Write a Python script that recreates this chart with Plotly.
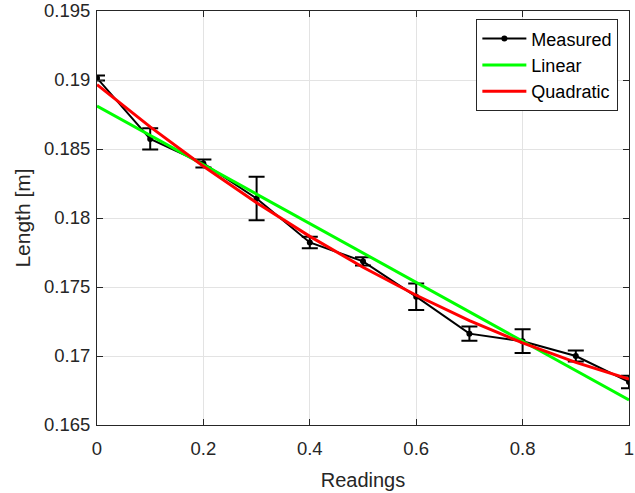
import plotly.graph_objects as go

readings = [0.0, 0.1, 0.2, 0.3, 0.4, 0.5, 0.6, 0.7, 0.8, 0.9, 1.0]
measured = [0.19014, 0.18573, 0.18395, 0.18141, 0.17823, 0.17686, 0.17430, 0.17162, 0.17107, 0.17000, 0.16812]
measured_err = [0.00018, 0.00077, 0.00029, 0.00158, 0.00042, 0.00030, 0.00096, 0.00052, 0.00086, 0.00040, 0.00045]
linear = [0.18812, 0.18599, 0.18386, 0.18173, 0.17960, 0.17746, 0.17533, 0.17320, 0.17107, 0.16894, 0.16681]
quadratic = [0.18966, 0.18660, 0.18375, 0.18111, 0.17867, 0.17643, 0.17440, 0.17257, 0.17095, 0.16954, 0.16833]

x_ticks = [0, 0.2, 0.4, 0.6, 0.8, 1]
x_tick_labels = ["0", "0.2", "0.4", "0.6", "0.8", "1"]
y_ticks = [0.165, 0.17, 0.175, 0.18, 0.185, 0.19, 0.195]
y_tick_labels = ["0.165", "0.17", "0.175", "0.18", "0.185", "0.19", "0.195"]

FONT = "Liberation Sans, Arial, Helvetica, sans-serif"
DARK = "#262626"

fig = go.Figure()
fig.add_trace(go.Scatter(
    x=readings, y=measured, name="Measured", mode="lines+markers",
    line=dict(color="black", width=2),
    marker=dict(color="black", size=6, symbol="circle"),
    error_y=dict(type="data", array=measured_err, visible=True,
                 color="black", thickness=2, width=8),
))
fig.add_trace(go.Scatter(
    x=readings, y=linear, name="Linear", mode="lines",
    line=dict(color="#00ff00", width=3),
))
fig.add_trace(go.Scatter(
    x=readings, y=quadratic, name="Quadratic", mode="lines",
    line=dict(color="#ff0000", width=3),
))

axis_common = dict(
    showline=True, linecolor=DARK, linewidth=1, mirror="ticks",
    ticks="inside", ticklen=6, tickcolor=DARK, tickwidth=1,
    showgrid=True, gridcolor="#e3e3e3", gridwidth=1, zeroline=False,
    tickfont=dict(family=FONT, size=18.5, color=DARK),
    automargin=False, ticklabeloverflow="allow",
)

fig.update_layout(
    width=635, height=493,
    margin=dict(l=97, r=6, t=11, b=68),
    paper_bgcolor="white", plot_bgcolor="white",
    font=dict(family=FONT, color=DARK),
    xaxis=dict(range=[-0.000001, 1.000001], tickvals=x_ticks, ticktext=x_tick_labels,
               ticklabelstandoff=7,
               title=dict(text="Readings", font=dict(family=FONT, size=20, color=DARK), standoff=14),
               **axis_common),
    yaxis=dict(range=[0.16499999, 0.19500001], tickvals=y_ticks, ticktext=y_tick_labels,
               ticklabelstandoff=2,
               title=dict(text="Length [m]", font=dict(family=FONT, size=21, color=DARK), standoff=7),
               **axis_common),
    legend=dict(x=0.98, y=0.98, xanchor="right", yanchor="top",
                bgcolor="white", bordercolor=DARK, borderwidth=1,
                font=dict(family=FONT, size=18, color="black"),
                tracegroupgap=0, itemwidth=44),
    showlegend=True,
)

fig.write_html("out.html", config={"displayModeBar": False},
               post_script="document.body.style.margin='0';")
